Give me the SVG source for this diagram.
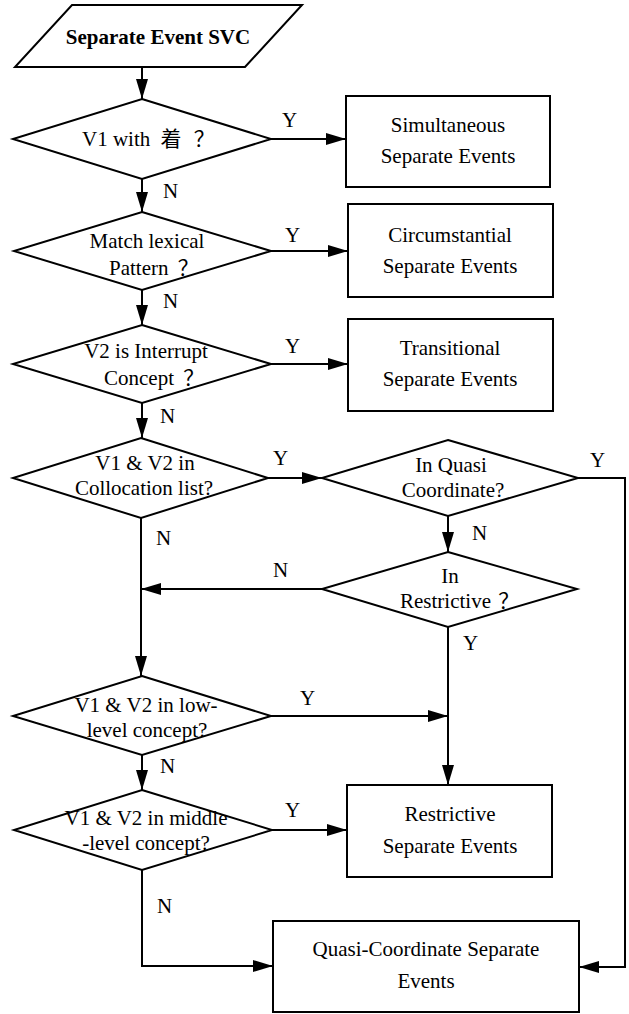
<svg xmlns="http://www.w3.org/2000/svg" width="629" height="1014" viewBox="0 0 629 1014">
<style>
.s{fill:#fff;stroke:#000;stroke-width:2}
text{font-family:'Liberation Serif','DejaVu Serif','Noto Sans CJK SC',serif;font-size:21px;fill:#000}
.t{text-anchor:middle}
.b{font-weight:bold}
.c{fill:none;stroke:#000;stroke-width:2}
</style>
<defs>
<marker id="a" viewBox="0 0 20 12" markerWidth="20" markerHeight="12" refX="20" refY="6" orient="auto" markerUnits="userSpaceOnUse">
<path d="M0,0 L20,6 L0,12 z" fill="#000"/>
</marker>
</defs>
<rect width="629" height="1014" fill="#fff"/>
<g id="start">
<polygon class="s" points="72,5 302,5 245,67 15,67"/>
<text class="t b" x="158" y="44">Separate Event SVC</text>
</g>
<g id="d1">
<polygon class="s" points="142,99 271,139 142,179 13,139"/>
<text x="82" y="146">V1 with <tspan dx="5">着</tspan> <tspan dx="7">？</tspan></text>
</g>
<g id="b1">
<rect class="s" x="346" y="96" width="204" height="91"/>
<text class="t" x="448" y="132">Simultaneous</text>
<text class="t" x="448" y="163">Separate Events</text>
</g>
<g id="d2">
<polygon class="s" points="142,212 271,251 142,290 14,251"/>
<text class="t" x="147" y="248">Match lexical</text>
<text x="109" y="275">Pattern <tspan dx="4">？</tspan></text>
</g>
<g id="b2">
<rect class="s" x="348" y="204" width="205" height="93"/>
<text class="t" x="450" y="242">Circumstantial</text>
<text class="t" x="450" y="273">Separate Events</text>
</g>
<g id="d3">
<polygon class="s" points="142,325 271,364 142,403 13,364"/>
<text class="t" x="146" y="358">V2 is Interrupt</text>
<text x="104" y="385">Concept <tspan dx="4">？</tspan></text>
</g>
<g id="b3">
<rect class="s" x="348" y="319" width="205" height="92"/>
<text class="t" x="450" y="355">Transitional</text>
<text class="t" x="450" y="386">Separate Events</text>
</g>
<g id="d4">
<polygon class="s" points="141,438 268,478 141,518 13,478"/>
<text class="t" x="145" y="470">V1 &amp; V2 in</text>
<text class="t" x="144" y="495">Collocation list?</text>
</g>
<g id="d5">
<polygon class="s" points="448,440 578,478 448,516 322,478"/>
<text class="t" x="451" y="472">In Quasi</text>
<text class="t" x="453" y="497">Coordinate?</text>
</g>
<g id="d6">
<polygon class="s" points="448,552 577,589 448,627 322,589"/>
<text class="t" x="450" y="583">In</text>
<text x="400" y="608">Restrictive <tspan dx="2">？</tspan></text>
</g>
<g id="d7">
<polygon class="s" points="142,676 271,716 142,755 13,716"/>
<text class="t" x="146" y="712">V1 &amp; V2 in low-</text>
<text class="t" x="147" y="737">level concept?</text>
</g>
<g id="d8">
<polygon class="s" points="142,790 272,830 142,870 14,830"/>
<text class="t" x="146" y="825">V1 &amp; V2 in middle</text>
<text class="t" x="146" y="850">-level concept?</text>
</g>
<g id="b4">
<rect class="s" x="347" y="785" width="205" height="92"/>
<text class="t" x="450" y="821">Restrictive</text>
<text class="t" x="450" y="853">Separate Events</text>
</g>
<g id="b5">
<rect class="s" x="273" y="921" width="306" height="91"/>
<text class="t" x="426" y="956">Quasi-Coordinate Separate</text>
<text class="t" x="426" y="988">Events</text>
</g>
<g id="connectors">
<path class="c" d="M142,67 V99" marker-end="url(#a)"/>
<path class="c" d="M271,139 H346" marker-end="url(#a)"/>
<path class="c" d="M142,179 V212" marker-end="url(#a)"/>
<path class="c" d="M271,251 H348" marker-end="url(#a)"/>
<path class="c" d="M142,290 V325" marker-end="url(#a)"/>
<path class="c" d="M271,364 H348" marker-end="url(#a)"/>
<path class="c" d="M142,403 V438" marker-end="url(#a)"/>
<path class="c" d="M268,478 H322" marker-end="url(#a)"/>
<path class="c" d="M141,518 V676" marker-end="url(#a)"/>
<path class="c" d="M322,589 H141" marker-end="url(#a)"/>
<path class="c" d="M448,516 V552" marker-end="url(#a)"/>
<path class="c" d="M448,627 V785" marker-end="url(#a)"/>
<path class="c" d="M271,716 H448" marker-end="url(#a)"/>
<path class="c" d="M142,755 V790" marker-end="url(#a)"/>
<path class="c" d="M272,830 H347" marker-end="url(#a)"/>
<path class="c" d="M142,870 V966 H273" marker-end="url(#a)"/>
<path class="c" d="M578,478 H625 V967 H579" marker-end="url(#a)"/>
<text x="282" y="127">Y</text>
<text x="163" y="198">N</text>
<text x="285" y="242">Y</text>
<text x="163" y="308">N</text>
<text x="285" y="353">Y</text>
<text x="160" y="423">N</text>
<text x="273" y="465">Y</text>
<text x="156" y="545">N</text>
<text x="590" y="467">Y</text>
<text x="472" y="540">N</text>
<text x="273" y="577">N</text>
<text x="463" y="650">Y</text>
<text x="300" y="705">Y</text>
<text x="160" y="773">N</text>
<text x="285" y="817">Y</text>
<text x="157" y="913">N</text>
</g>
</svg>
